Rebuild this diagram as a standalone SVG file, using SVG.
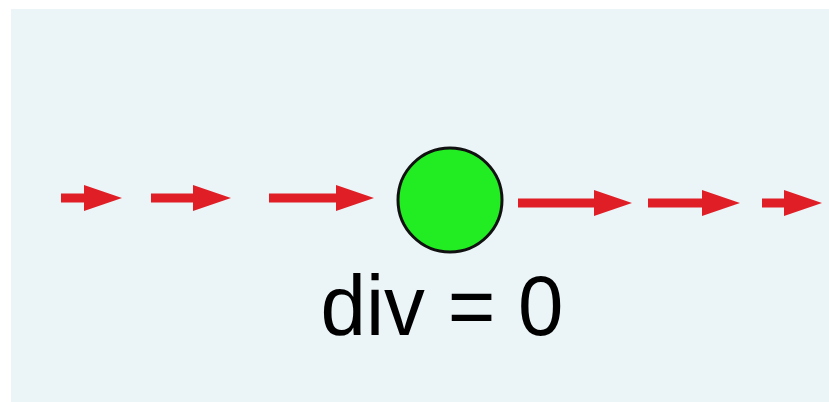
<svg xmlns="http://www.w3.org/2000/svg" width="829" height="402" viewBox="0 0 829 402">
  <style>
    .flow { stroke: #E01E26; stroke-width: 9; fill: none; marker-end: url(#head); }
    .node { fill: #22EC22; stroke: #111; stroke-width: 3; }
    .label { font-family: "Liberation Sans", Arial, sans-serif; font-size: 86px; fill: #000; text-anchor: middle; }
  </style>
  <defs>
    <marker id="head" markerUnits="userSpaceOnUse" viewBox="0 -14 40 28" markerWidth="40" markerHeight="28" refX="0" refY="0" orient="auto">
      <path d="M0,-13 L38,0 L0,13 Z" fill="#E01E26"/>
    </marker>
  </defs>
  <rect x="0" y="0" width="829" height="402" fill="#FFFFFF"/>
  <rect x="11" y="9" width="818" height="393" fill="#EBF4F7"/>
  <g id="connectors">
    <line class="flow" x1="61" y1="198" x2="84" y2="198"/>
    <line class="flow" x1="151" y1="198" x2="193" y2="198"/>
    <line class="flow" x1="269" y1="198" x2="336" y2="198"/>
    <line class="flow" x1="518" y1="203" x2="594" y2="203"/>
    <line class="flow" x1="648" y1="203" x2="702" y2="203"/>
    <line class="flow" x1="762" y1="203" x2="784" y2="203"/>
  </g>
  <g id="point">
    <circle class="node" cx="450" cy="200" r="52"/>
  </g>
  <g id="label">
    <text class="label" x="442" y="335" transform="translate(442 0) scale(0.95 1) translate(-442 0)">div = 0</text>
  </g>
</svg>
